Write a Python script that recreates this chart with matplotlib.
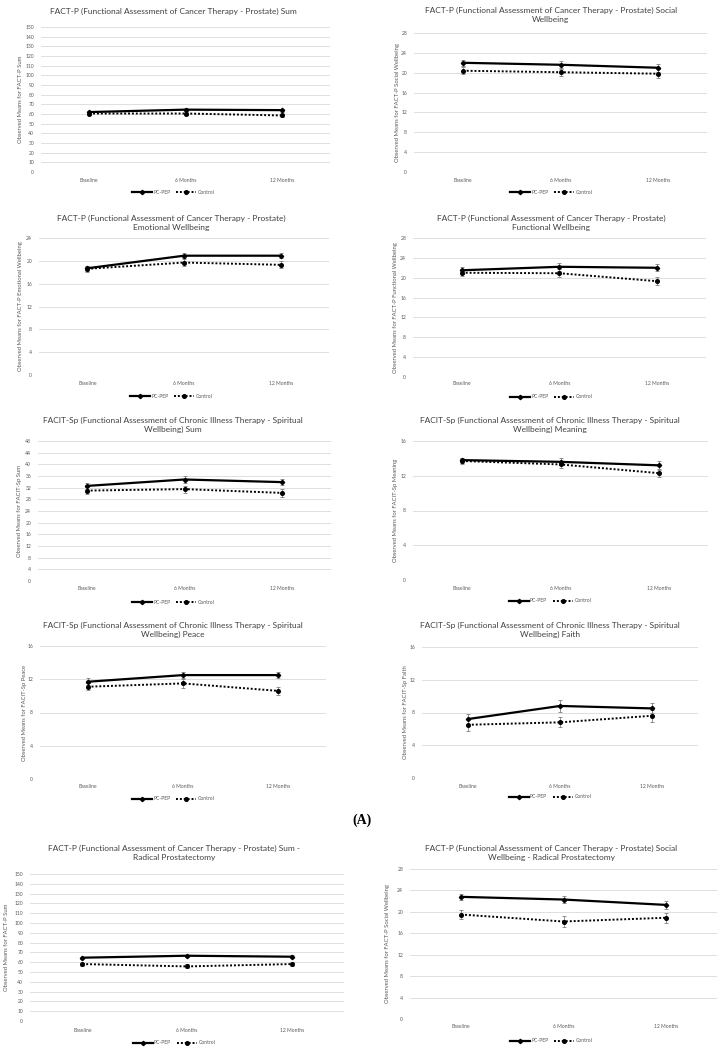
import matplotlib
matplotlib.use("Agg")
import matplotlib.pyplot as plt
from matplotlib.lines import Line2D

plt.rcParams['font.family'] = ['Lato', 'DejaVu Sans']

categories = ["Baseline", "6 Months", "12 Months"]
series_names = ["PC-PEP", "Control"]

# ---- data (observed means and error half-widths) ----
sum_pcpep = [62.0, 64.5, 64.0]
sum_pcpep_err = [1.5, 1.5, 1.5]
sum_ctrl = [60.5, 60.5, 58.5]
sum_ctrl_err = [1.5, 1.5, 1.5]

social_pcpep = [22.0, 21.6, 21.0]
social_pcpep_err = [0.6, 0.7, 0.8]
social_ctrl = [20.4, 20.1, 19.8]
social_ctrl_err = [0.7, 0.7, 0.9]

emotional_pcpep = [18.7, 20.9, 20.9]
emotional_pcpep_err = [0.4, 0.4, 0.4]
emotional_ctrl = [18.6, 19.7, 19.3]
emotional_ctrl_err = [0.5, 0.6, 0.6]

functional_pcpep = [21.5, 22.2, 22.0]
functional_pcpep_err = [0.7, 0.8, 0.7]
functional_ctrl = [21.0, 20.9, 19.3]
functional_ctrl_err = [0.7, 0.8, 0.8]

spsum_pcpep = [32.6, 34.8, 33.9]
spsum_pcpep_err = [1.0, 1.1, 1.0]
spsum_ctrl = [31.0, 31.5, 30.2]
spsum_ctrl_err = [1.2, 1.2, 1.3]

meaning_pcpep = [13.8, 13.6, 13.2]
meaning_pcpep_err = [0.3, 0.4, 0.5]
meaning_ctrl = [13.7, 13.3, 12.3]
meaning_ctrl_err = [0.4, 0.4, 0.5]

peace_pcpep = [11.7, 12.5, 12.5]
peace_pcpep_err = [0.4, 0.4, 0.4]
peace_ctrl = [11.1, 11.5, 10.6]
peace_ctrl_err = [0.4, 0.5, 0.5]

faith_pcpep = [7.2, 8.8, 8.5]
faith_pcpep_err = [0.6, 0.7, 0.6]
faith_ctrl = [6.5, 6.8, 7.6]
faith_ctrl_err = [0.7, 0.6, 0.7]

rpsum_pcpep = [64.6, 66.6, 65.6]
rpsum_pcpep_err = [1.2, 1.2, 1.3]
rpsum_ctrl = [58.1, 55.7, 58.1]
rpsum_ctrl_err = [1.5, 2.0, 1.8]

rpsocial_pcpep = [22.8, 22.3, 21.3]
rpsocial_pcpep_err = [0.5, 0.6, 0.7]
rpsocial_ctrl = [19.5, 18.2, 18.9]
rpsocial_ctrl_err = [0.9, 1.0, 0.9]

titles = [
    "FACT-P (Functional Assessment of Cancer Therapy - Prostate) Sum",
    "FACT-P (Functional Assessment of Cancer Therapy - Prostate) Social\nWellbeing",
    "FACT-P (Functional Assessment of Cancer Therapy - Prostate)\nEmotional Wellbeing",
    "FACT-P (Functional Assessment of Cancer Therapy - Prostate)\nFunctional Wellbeing",
    "FACIT-Sp (Functional Assessment of Chronic Illness Therapy - Spiritual\nWellbeing) Sum",
    "FACIT-Sp (Functional Assessment of Chronic Illness Therapy - Spiritual\nWellbeing) Meaning",
    "FACIT-Sp (Functional Assessment of Chronic Illness Therapy - Spiritual\nWellbeing) Peace",
    "FACIT-Sp (Functional Assessment of Chronic Illness Therapy - Spiritual\nWellbeing) Faith",
    "FACT-P (Functional Assessment of Cancer Therapy - Prostate) Sum -\nRadical Prostatectomy",
    "FACT-P (Functional Assessment of Cancer Therapy - Prostate) Social\nWellbeing - Radical Prostatectomy",
]
ylabels = [
    "Observed Means for FACT-P Sum",
    "Observed Means for FACT-P Social Wellbeing",
    "Observed Means for FACT-P Emotional Wellbeing",
    "Observed Means for FACT-P Functional Wellbeing",
    "Observed Means for FACIT-Sp Sum",
    "Observed Means for FACIT-Sp Meaning",
    "Observed Means for FACIT-Sp Peace",
    "Observed Means for FACIT-Sp Faith",
    "Observed Means for FACT-P Sum",
    "Observed Means for FACT-P Social Wellbeing",
]
ymax = [150, 28, 24, 28, 48, 16, 16, 16, 150, 28]
ystep = [10, 4, 4, 4, 4, 4, 4, 4, 10, 4]

pcpep_all = [sum_pcpep, social_pcpep, emotional_pcpep, functional_pcpep, spsum_pcpep,
             meaning_pcpep, peace_pcpep, faith_pcpep, rpsum_pcpep, rpsocial_pcpep]
pcpep_err_all = [sum_pcpep_err, social_pcpep_err, emotional_pcpep_err, functional_pcpep_err,
                 spsum_pcpep_err, meaning_pcpep_err, peace_pcpep_err, faith_pcpep_err,
                 rpsum_pcpep_err, rpsocial_pcpep_err]
ctrl_all = [sum_ctrl, social_ctrl, emotional_ctrl, functional_ctrl, spsum_ctrl,
            meaning_ctrl, peace_ctrl, faith_ctrl, rpsum_ctrl, rpsocial_ctrl]
ctrl_err_all = [sum_ctrl_err, social_ctrl_err, emotional_ctrl_err, functional_ctrl_err,
                spsum_ctrl_err, meaning_ctrl_err, peace_ctrl_err, faith_ctrl_err,
                rpsum_ctrl_err, rpsocial_ctrl_err]

# ---- layout in pixels:
# (x_left, x_right, y_top, y_bottom, title_y, xlabel_y, legend_y, ylabel_x, center_x)
W, H = 724, 1050
layout = [
    (41, 330, 27, 172, 8, 180, 192, 21, 173),
    (414, 707, 33, 172, 7, 180, 192, 397, 551),
    (39, 329, 238, 375, 215, 383, 396, 21, 171),
    (413, 706, 238, 377, 215, 384, 397, 395, 551),
    (38, 331, 441, 581, 417, 589, 602, 20, 173),
    (413, 708, 441, 580, 417, 588, 601, 395, 550),
    (40, 326, 646, 779, 622, 787, 799, 25, 173),
    (422, 698, 647, 778, 622, 786, 797, 405, 550),
    (30, 344, 874, 1021, 845, 1030, 1043, 7, 174),
    (410, 717, 869, 1019, 845, 1027, 1041, 387, 551),
]

fig = plt.figure(figsize=(W / 100, H / 100), dpi=100)
fig.patch.set_facecolor("white")

tick_color = "#595959"
grid_color = "#d9d9d9"
err_color = "#7f7f7f"

for i in range(10):
    xl, xr, yt, yb, ty, xly, ly, ylx, cx = layout[i]
    ax = fig.add_axes([xl / W, 1 - yb / H, (xr - xl) / W, (yb - yt) / H])
    xs = [0.5, 1.5, 2.5]
    ax.errorbar(xs, pcpep_all[i], yerr=pcpep_err_all[i], fmt="none", ecolor=err_color,
                elinewidth=0.6, capsize=1.5, capthick=0.6, zorder=2)
    ax.errorbar(xs, ctrl_all[i], yerr=ctrl_err_all[i], fmt="none", ecolor=err_color,
                elinewidth=0.6, capsize=1.5, capthick=0.6, zorder=2)
    ax.plot(xs, pcpep_all[i], color="black", lw=1.6, marker="D", ms=2.2, zorder=3)
    ax.plot(xs, ctrl_all[i], color="black", lw=1.4, ls=(0, (1, 1)), marker="o", ms=2.6, zorder=3)
    ax.set_xlim(0, 3)
    ax.set_ylim(0, ymax[i])
    ax.set_yticks(list(range(0, ymax[i] + 1, ystep[i])))
    ax.set_xticks(xs)
    ax.set_xticklabels([])
    for xv, lab in zip(xs, categories):
        xfig = ax.transData.transform((xv, 0))[0]
        fig.text(xfig / W, 1 - xly / H, lab, fontsize=3.6, color=tick_color,
                 ha="center", va="center")
    ax.tick_params(axis="y", labelsize=3.6, labelcolor=tick_color, length=0, pad=5)
    ax.tick_params(axis="x", length=0)
    ax.grid(axis="y", color=grid_color, lw=0.6)
    ax.set_axisbelow(True)
    for s in ax.spines.values():
        s.set_visible(False)
    fig.text(cx / W, 1 - ty / H, titles[i], fontsize=6.0, color="#404040",
             ha="center", va="top", linespacing=1.25)
    fig.text(ylx / W, 1 - ((yt + yb) / 2) / H, ylabels[i], fontsize=4.2, color=tick_color,
             rotation=90, ha="center", va="center")
    handles = [
        Line2D([], [], color="black", lw=1.6, marker="D", ms=2.2),
        Line2D([], [], color="black", lw=1.4, ls=(0, (1, 1)), marker="o", ms=2.6),
    ]
    fig.legend(handles, series_names, loc="center", bbox_to_anchor=(cx / W, 1 - ly / H),
               ncol=2, frameon=False, fontsize=3.6, labelcolor=tick_color,
               handlelength=4.0, handletextpad=0.3, columnspacing=1.2)

fig.text(362 / W, 1 - 820 / H, "(A)", fontsize=10, fontweight="bold",
         family=["Liberation Serif", "DejaVu Serif"], ha="center", va="center")

fig.savefig("out.png", dpi=100, facecolor="white")
